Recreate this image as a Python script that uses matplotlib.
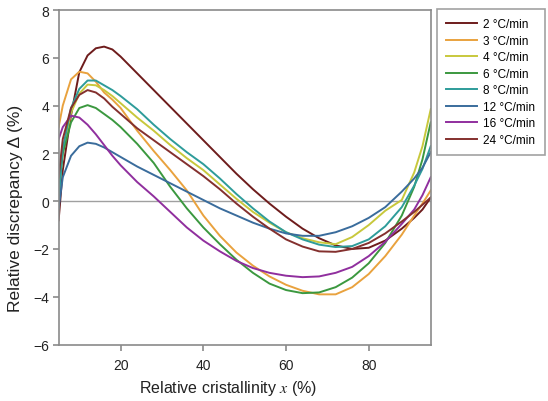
import matplotlib
matplotlib.use("Agg")
import matplotlib.pyplot as plt

plt.rcParams['font.family'] = ['Liberation Sans', 'DejaVu Sans']
plt.rcParams['mathtext.fontset'] = 'stix'

# relative cristallinity x (%) at which the curves were read
x_pts = [5, 6, 8, 10, 12, 14, 16, 18, 20, 24, 28, 32, 36, 40, 44, 48,
         52, 56, 60, 64, 68, 72, 76, 80, 84, 88, 91, 93, 95]

# relative discrepancy (%) per heating rate
d_2 = [-0.8, 1.3, 3.6, 5.4, 6.1, 6.4, 6.47, 6.35, 6.05, 5.35, 4.65, 3.95, 3.25,
       2.55, 1.85, 1.15, 0.5, -0.1, -0.65, -1.15, -1.55, -1.85, -2.0, -1.95, -1.65,
       -1.15, -0.7, -0.35, 0.15]
d_3 = [3.1, 4.0, 5.1, 5.42, 5.35, 5.0, 4.55, 4.25, 3.9, 2.95, 2.1, 1.3, 0.45,
       -0.6, -1.45, -2.15, -2.7, -3.15, -3.5, -3.75, -3.9, -3.9, -3.6, -3.05, -2.3,
       -1.4, -0.6, -0.1, 0.45]
d_4 = [0.3, 2.0, 3.7, 4.5, 4.88, 4.85, 4.65, 4.4, 4.1, 3.5, 2.95, 2.35, 1.8,
       1.3, 0.7, 0.1, -0.45, -0.9, -1.3, -1.55, -1.72, -1.8, -1.5, -1.0, -0.4,
       0.05, 1.2, 2.3, 3.85]
d_6 = [0.5, 2.0, 3.3, 3.9, 4.02, 3.9, 3.65, 3.4, 3.1, 2.4, 1.6, 0.6, -0.3,
       -1.1, -1.8, -2.45, -3.0, -3.45, -3.72, -3.85, -3.82, -3.6, -3.2, -2.6, -1.75,
       -0.6, 0.6, 1.75, 3.3]
d_8 = [0.0, 2.2, 3.9, 4.7, 5.05, 5.05, 4.85, 4.65, 4.4, 3.85, 3.2, 2.6, 2.05,
       1.55, 0.95, 0.3, -0.3, -0.85, -1.3, -1.6, -1.82, -1.92, -1.88, -1.6, -1.05,
       -0.25, 0.65, 1.35, 2.3]
d_12 = [-0.3, 1.0, 1.9, 2.3, 2.45, 2.4, 2.25, 2.05, 1.85, 1.45, 1.1, 0.75, 0.4,
        0.05, -0.3, -0.6, -0.9, -1.15, -1.35, -1.45, -1.45, -1.3, -1.05, -0.7, -0.25,
        0.4, 0.95, 1.4, 2.05]
d_16 = [2.6, 3.1, 3.58, 3.5, 3.2, 2.8, 2.35, 1.9, 1.5, 0.8, 0.2, -0.45, -1.1,
        -1.65, -2.1, -2.5, -2.8, -3.0, -3.12, -3.18, -3.15, -3.0, -2.75, -2.3, -1.7,
        -0.95, -0.35, 0.25, 1.0]
d_24 = [1.0, 2.6, 3.9, 4.45, 4.65, 4.55, 4.3, 3.95, 3.65, 3.05, 2.55, 2.05, 1.55,
        1.05, 0.5, -0.1, -0.65, -1.15, -1.6, -1.9, -2.1, -2.12, -2.0, -1.75, -1.35,
        -0.85, -0.45, -0.15, 0.15]

labels = ['2 °C/min', '3 °C/min', '4 °C/min', '6 °C/min',
          '8 °C/min', '12 °C/min', '16 °C/min', '24 °C/min']
series = [d_2, d_3, d_4, d_6, d_8, d_12, d_16, d_24]
colors = ['#6e1c1c', '#e9a23e', '#c8c83c', '#3b983f',
          '#2e9c9a', '#3a6c9c', '#902f9e', '#84302e']

fig = plt.figure(figsize=(5.48, 4.02), dpi=100)
ax = fig.add_axes([0.107, 0.1405, 0.679, 0.832])

ax.axhline(0, color='#a0a0a0', lw=1.0, zorder=1)
for d, lab, c in zip(series, labels, colors):
    ax.plot(x_pts, d, color=c, lw=1.4, label=lab, zorder=2)

ax.set_xlim(5, 95)
ax.set_ylim(-6, 8)
ax.set_xticks([20, 40, 60, 80])
ax.set_yticks([-6, -4, -2, 0, 2, 4, 6, 8])
for s in ax.spines.values():
    s.set_color('#8a8a8a')
    s.set_linewidth(1.2)
ax.tick_params(direction='out', length=4, width=1.2, color='#8a8a8a',
               labelsize=10, labelcolor='#222222', pad=3)
ax.tick_params(axis='x', pad=6)

ax.set_xlabel(r'Relative cristallinity $x$ (%)', fontsize=11.5, color='#222222', va='center')
ax.set_ylabel('Relative discrepancy Δ (%)', fontsize=12.5, color='#222222', va='center')
ax.xaxis.set_label_coords(0.454, -0.13)
ax.yaxis.set_label_coords(-0.115, 0.41)

leg = fig.legend(loc='upper left', bbox_to_anchor=(437 / 548, 1 - 10 / 402),
                 fontsize=8.5, frameon=True, fancybox=False, handlelength=2.6,
                 labelspacing=0.38, borderpad=0.8, borderaxespad=0,
                 handletextpad=0.5)
leg.get_frame().set_edgecolor('#8a8a8a')
leg.get_frame().set_linewidth(1.2)

fig.savefig('out.png', dpi=100)
